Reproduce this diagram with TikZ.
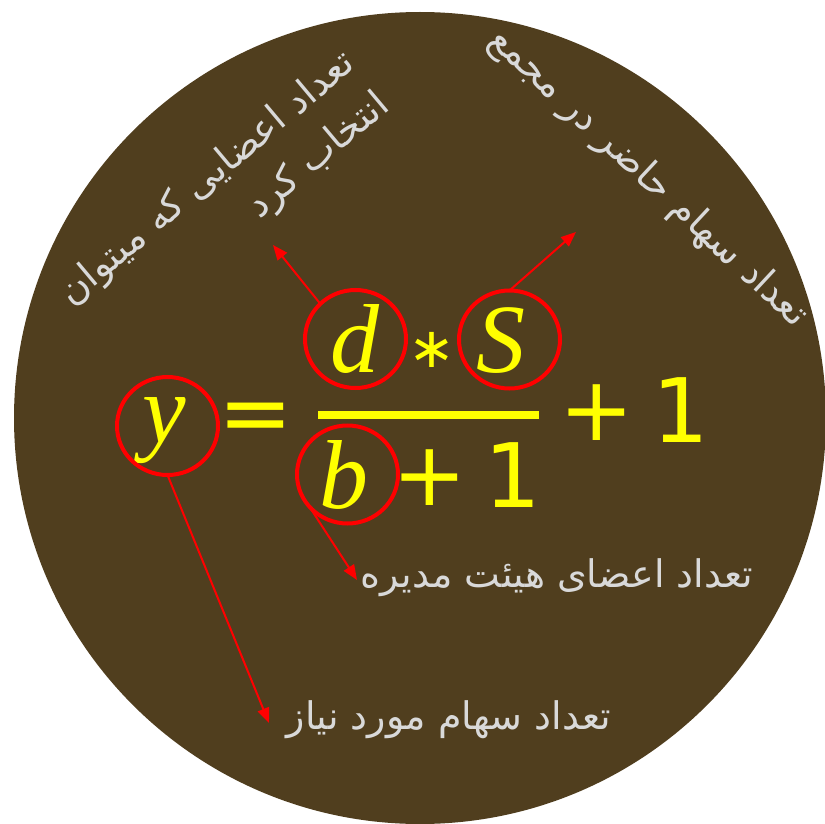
\documentclass[tikz,border=0pt]{standalone}
\usepackage{fontspec}
\usetikzlibrary{shapes.geometric,arrows.meta}
\TeXXeTstate=1
\newfontfamily\fa[Script=Arabic]{DejaVu Sans}
\newfontfamily\mvar{Liberation Serif}
\newfontfamily\mop{DejaVu Sans}
\definecolor{bg}{RGB}{80,62,30}
\definecolor{lbl}{RGB}{217,217,217}
\definecolor{ylw}{RGB}{255,255,0}
\begin{document}
\begin{tikzpicture}[x=1pt,y=-1pt,
 sym/.style={text=ylw,inner sep=0pt,outer sep=0pt},
 var/.style={sym,anchor=base,font=\mvar\itshape\fontsize{98}{98}\selectfont},
 op/.style={sym,anchor=north,font=\mop\fontsize{89}{89}\selectfont},
 num/.style={sym,anchor=base,font=\mop\fontsize{89}{89}\selectfont},
 ring/.style={ellipse,draw=red,line width=4pt,minimum width=101pt,minimum height=98pt,inner sep=0pt,outer sep=0pt},
 arr/.style={draw=red,line width=2pt,-{Triangle[length=15pt,width=12pt]}},
 lab/.style={text=lbl,inner sep=0pt,font=\fa\fontsize{38}{54}\selectfont}]
\useasboundingbox (0,0) rectangle (825,824);
\fill[bg] (420,418) circle[radius=406pt];
% formula
\node[var] (y) at (164,442) {y};
\node[op] (eq) at (256,403) {=};
\node[var] (d) at (355,372) {d};
\node[op,font=\mop\fontsize{56}{56}\selectfont] (ast) at (432,332) {∗};
\node[var] (S) at (501,372) {S};
\node[fill=ylw,minimum width=221pt,minimum height=8pt,inner sep=0pt] (bar) at (428.5,415) {};
\node[var] (b) at (344,508) {b};
\node[op] (p1) at (430,450) {+};
\node[num] (one1) at (513,507) {1};
\node[op] (p2) at (597,385) {+};
\node[num] (one2) at (681,442) {1};
% rings
\node[ring] (ey) at (167.5,426) {};
\node[ring] (ed) at (355.5,339) {};
\node[ring] (eS) at (509.5,339.5) {};
\node[ring] (eb) at (347.5,474.5) {};
% arrow tips
\coordinate (ty) at (269,723);
\coordinate (td) at (273,245);
\coordinate (tS) at (576,232);
\coordinate (tb) at (357,580);
\draw[arr] (ey.south) -- (ty);
\draw[arr] (ed.135) -- (td);
\draw[arr] (eS.north) -- (tS);
\draw[arr] (eb.220) -- (tb);
% labels
\node[lab] (ly) at (449,720) {\beginR تعداد سهام مورد نیاز\endR};
\node[lab] (lb) at (557,578) {\beginR تعداد اعضای هیئت مدیره\endR};
\node[lab,rotate=-43] (lS) at (648,178) {\beginR تعداد سهام حاضر در مجمع\endR};
\node[lab,rotate=40,align=right] (ld) at (225,200) {\beginR تعداد اعضایی که میتوان\endR\\\beginR انتخاب کرد\endR};
\end{tikzpicture}
\end{document}
